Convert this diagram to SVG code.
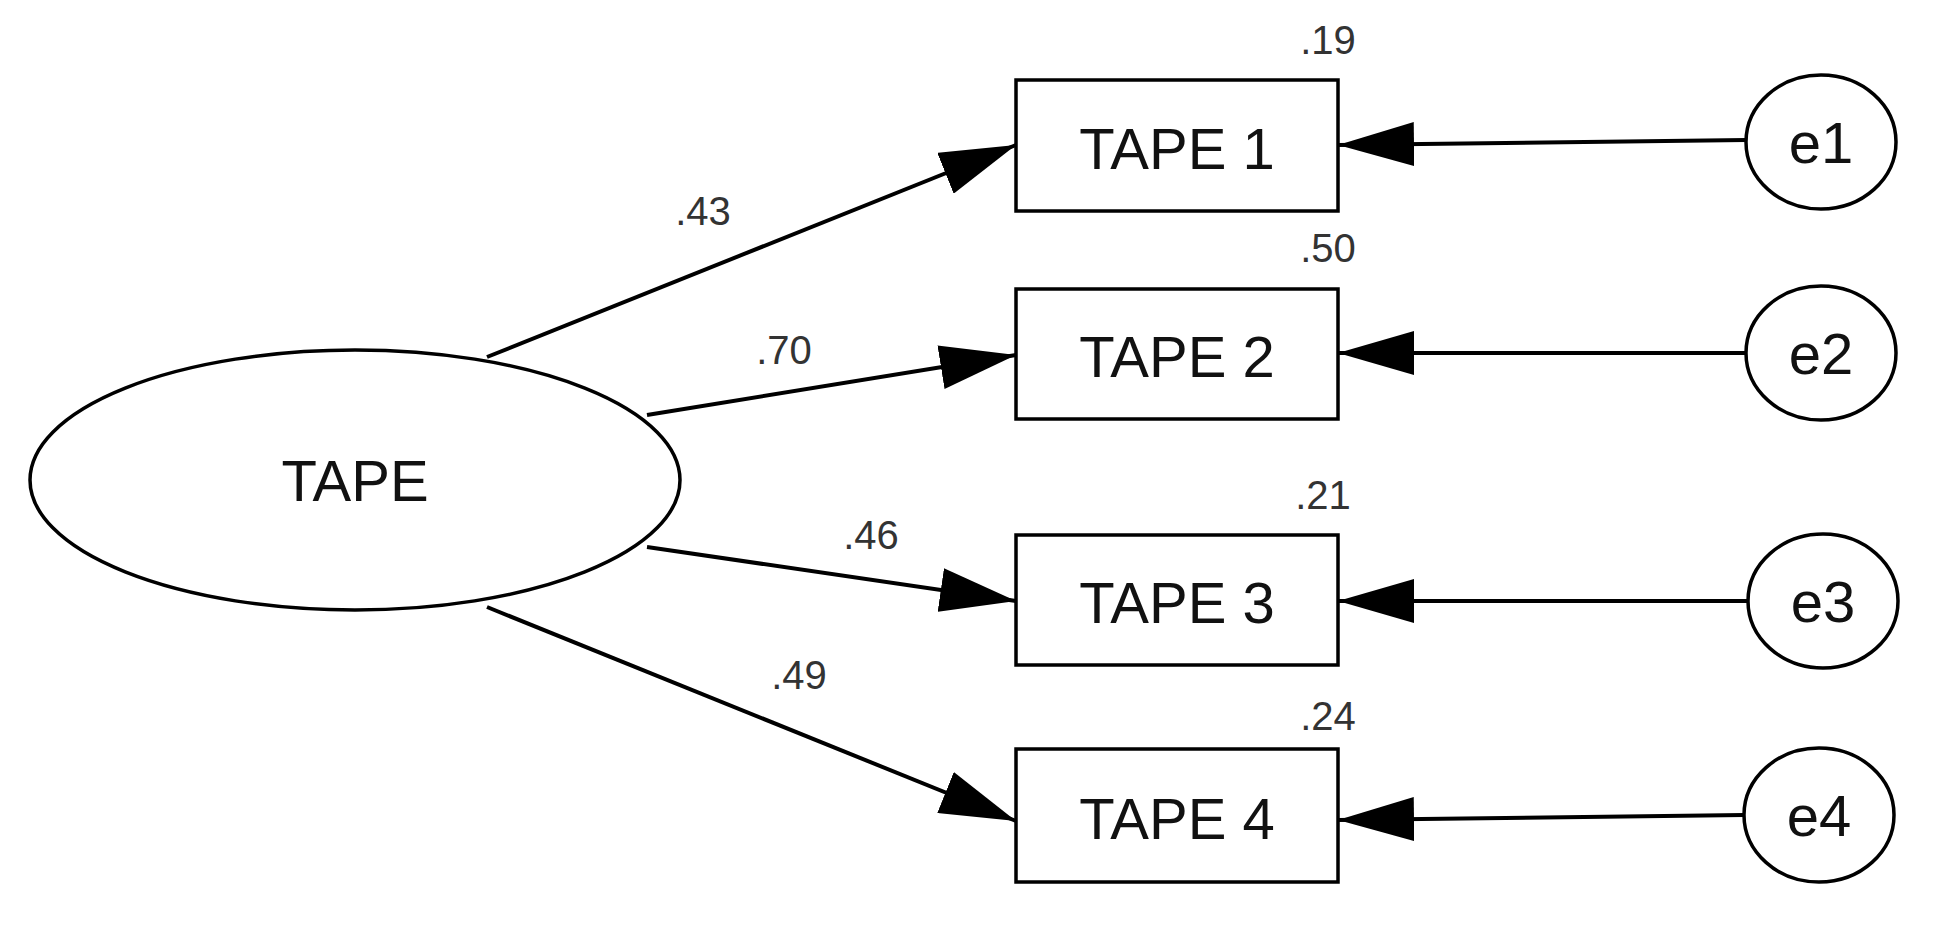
<svg xmlns="http://www.w3.org/2000/svg" width="1942" height="927" viewBox="0 0 1942 927">
<style>
.s{fill:#fff;stroke:#000;stroke-width:3.5}
.t{font-family:"Liberation Sans",Arial,sans-serif;font-size:58px;fill:#111;text-anchor:middle;dominant-baseline:central}
.l{font-family:"Liberation Sans",Arial,sans-serif;font-size:40px;fill:#333;text-anchor:middle;dominant-baseline:central}
.c{stroke:#000;stroke-width:4;fill:none;marker-end:url(#a)}
</style>
<defs><marker id="a" markerUnits="userSpaceOnUse" markerWidth="78" markerHeight="44" refX="76" refY="22" orient="auto"><path d="M0,0 L76,22 L0,44 Z" fill="#000"/></marker></defs>
<rect width="1942" height="927" fill="#fff"/>
<g id="connectors">
<line class="c" x1="487" y1="357" x2="1016" y2="145"/>
<line class="c" x1="647" y1="415" x2="1016" y2="355"/>
<line class="c" x1="647" y1="547" x2="1016" y2="601"/>
<line class="c" x1="487" y1="607" x2="1016" y2="821"/>
<line class="c" x1="1746" y1="140" x2="1338" y2="145"/>
<line class="c" x1="1746" y1="353" x2="1338" y2="353"/>
<line class="c" x1="1748" y1="601" x2="1338" y2="601"/>
<line class="c" x1="1744" y1="815" x2="1338" y2="820"/>
<text class="l" x="703" y="211">.43</text>
<text class="l" x="784" y="350">.70</text>
<text class="l" x="871" y="535">.46</text>
<text class="l" x="799" y="675">.49</text>
</g>
<g id="TAPE"><ellipse class="s" cx="355" cy="480" rx="325" ry="130"/><text class="t" x="355" y="480">TAPE</text></g>
<g id="TAPE1"><rect class="s" x="1016" y="80" width="322" height="131"/><text class="t" x="1177" y="148">TAPE 1</text><text class="l" x="1328" y="40">.19</text></g>
<g id="TAPE2"><rect class="s" x="1016" y="289" width="322" height="130"/><text class="t" x="1177" y="356">TAPE 2</text><text class="l" x="1328" y="248">.50</text></g>
<g id="TAPE3"><rect class="s" x="1016" y="535" width="322" height="130"/><text class="t" x="1177" y="602">TAPE 3</text><text class="l" x="1323" y="495">.21</text></g>
<g id="TAPE4"><rect class="s" x="1016" y="749" width="322" height="133"/><text class="t" x="1177" y="818">TAPE 4</text><text class="l" x="1328" y="716">.24</text></g>
<g id="e1"><ellipse class="s" cx="1821" cy="142" rx="75" ry="67"/><text class="t" x="1821" y="142">e1</text></g>
<g id="e2"><ellipse class="s" cx="1821" cy="353" rx="75" ry="67"/><text class="t" x="1821" y="353">e2</text></g>
<g id="e3"><ellipse class="s" cx="1823" cy="601" rx="75" ry="67"/><text class="t" x="1823" y="601">e3</text></g>
<g id="e4"><ellipse class="s" cx="1819" cy="815" rx="75" ry="67"/><text class="t" x="1819" y="815">e4</text></g>
</svg>
